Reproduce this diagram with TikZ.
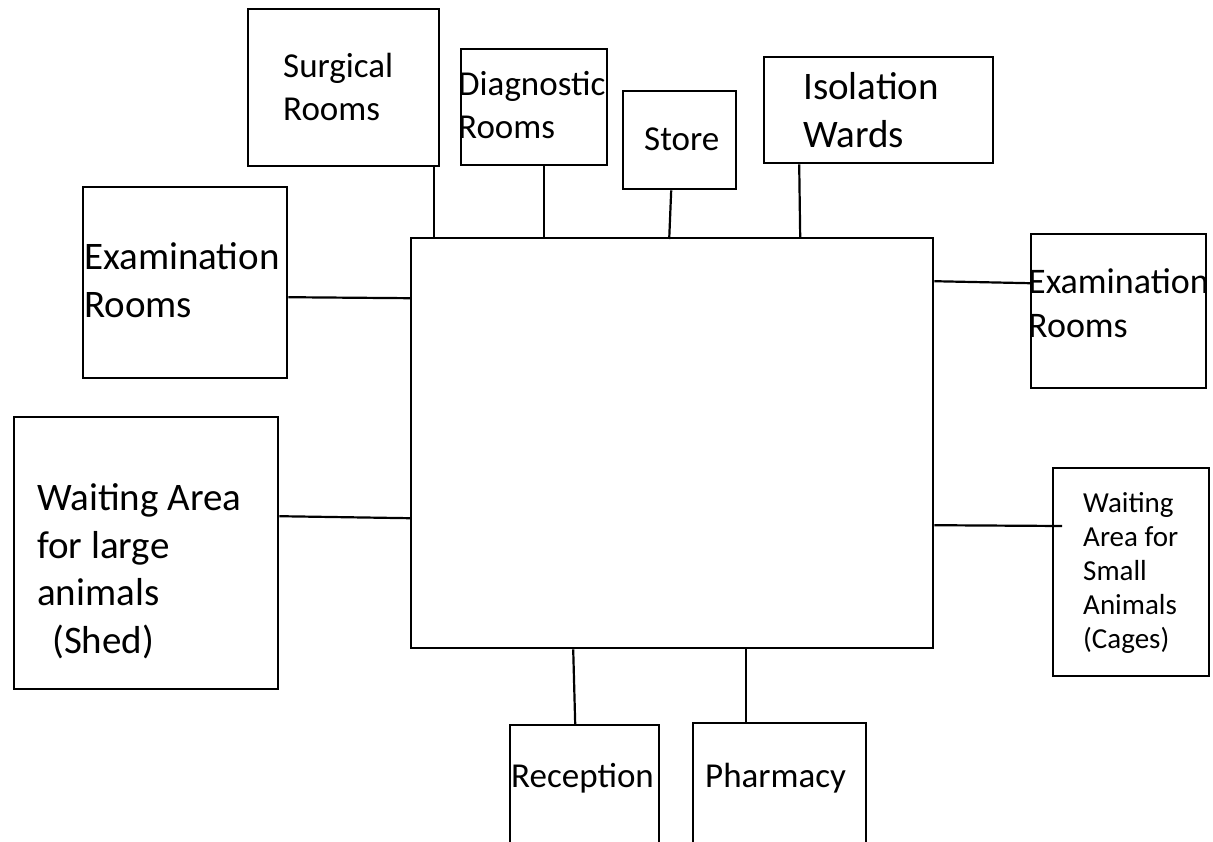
\documentclass[tikz,border=0pt]{standalone}
\usepackage{fontspec}
\setmainfont{Carlito}
\begin{document}
\begin{tikzpicture}[x=1pt,y=-1pt,
  room/.style={draw=black, line width=2.4pt, inner sep=0pt, anchor=north west},
  link/.style={draw=black, line width=2.2pt},
  lbl/.style={anchor=base west, inner sep=0pt, align=left},
  fsmall/.style={font=\fontsize{29pt}{34pt}\selectfont},
  fmid/.style={font=\fontsize{35pt}{43pt}\selectfont},
  fmidb/.style={font=\fontsize{36pt}{44pt}\selectfont},
  flarge/.style={font=\fontsize{39pt}{47.5pt}\selectfont}]
\useasboundingbox (0,0) rectangle (1213,841);
\clip (0,0) rectangle (1213,841);

% central hall
\node[room, minimum width=522pt, minimum height=410pt] (hub) at (410,237) {};

% rooms around the hall
\node[room, minimum width=191pt, minimum height=157pt] (surg)  at (247,8)    {};
\node[room, minimum width=146pt, minimum height=116pt] (diag)  at (460,48)   {};
\node[room, minimum width=113pt, minimum height=98pt]  (store) at (622,90)   {};
\node[room, minimum width=229pt, minimum height=106pt] (iso)   at (763,56)   {};
\node[room, minimum width=204pt, minimum height=191pt] (examL) at (82,186)   {};
\node[room, minimum width=175pt, minimum height=154pt] (examR) at (1030,233) {};
\node[room, minimum width=264pt, minimum height=272pt] (waitL) at (13,416)   {};
\node[room, minimum width=156pt, minimum height=208pt] (waitR) at (1052,467) {};
\node[room, minimum width=149pt, minimum height=140pt] (recep) at (509,724)  {};
\node[room, minimum width=173pt, minimum height=140pt] (pharm) at (692,722)  {};

% labels (each placed by the baseline of its last line)
\node[lbl, fmid]   (tSurg)  at (283,120) {Surgical\\Rooms};
\node[lbl, fmid]   (tDiag)  at (458,138) {Diagnostic\\Rooms};
\node[lbl, fmid]   (tStore) at (644,150) {Store};
\node[lbl, flarge] (tIso)   at (803,147) {Isolation\\Wards};
\node[lbl, flarge] (tExL)   at (84,317)  {Examination\\Rooms};
\node[lbl, fmidb]  (tExR)   at (1028,337) {Examination\\Rooms};
\node[lbl, flarge] (tWaL)   at (37,653)  {Waiting Area\\for large\\animals\\\hspace*{15pt}(Shed)};
\node[lbl, fsmall] (tWaR)   at (1083,648) {Waiting\\Area for\\Small\\Animals\\(Cages)};
\node[lbl, fmid]   (tRec)   at (511,787) {Reception};
\node[lbl, fmid]   (tPha)   at (705,787) {Pharmacy};

% corridors joining the rooms to the hall
\coordinate (waitREnd) at (1062,526);
\draw[link] ([xshift=90.5pt]surg.south)  -- ([xshift=-238pt]hub.north);
\draw[link] ([xshift=10pt]diag.south)    -- ([xshift=-128pt]hub.north);
\draw[link] ([xshift=-8.5pt]store.south) -- ([xshift=-3pt,yshift=-2pt]hub.north);
\draw[link] ([xshift=-79.5pt]iso.south)  -- ([xshift=128pt]hub.north);
\draw[link] ([yshift=-14.5pt]examL.east) -- ([yshift=145pt]hub.west);
\draw[link] ([yshift=28pt]examR.west)    -- ([yshift=162pt]hub.east);
\draw[link] ([yshift=37pt]waitL.east)    -- ([yshift=-75pt]hub.west);
\draw[link] ([yshift=-82pt]hub.east)     -- (waitREnd);
\draw[link] ([xshift=-99pt]hub.south)    -- ([xshift=-9.5pt]recep.north);
\draw[link] ([xshift=74pt]hub.south)     -- ([xshift=-33.5pt]pharm.north);
\end{tikzpicture}
\end{document}
